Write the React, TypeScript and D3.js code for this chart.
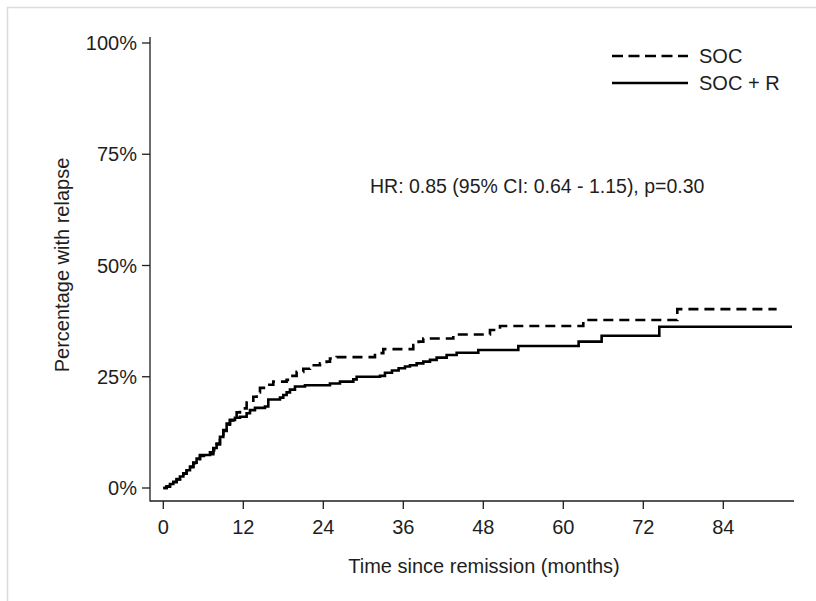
import React, { useEffect, useRef } from "react";
import * as d3 from "d3";

const xTicks = [0, 12, 24, 36, 48, 60, 72, 84];
const yTicks = [0, 25, 50, 75, 100];

const socT = [0, 0.5, 1, 1.5, 2, 2.5, 3, 3.5, 4, 4.5, 5, 5.5, 6.5, 7.5, 8, 8.5, 9, 9.5, 10, 10.5, 11, 11.5, 12.5, 13.5, 14, 14.5, 15.5, 16.5, 18.5, 19, 20, 21, 22, 23.5, 24.5, 25, 26, 31.75, 33, 37.5, 38.3, 39, 43.5, 49, 50.5, 63, 77.1, 92];
const socV = [0, 0.3, 0.8, 1.3, 1.9, 2.5, 3.2, 3.9, 4.7, 5.6, 6.5, 7.2, 7.6, 8.5, 9.8, 11.2, 12.8, 14.2, 15.2, 16.0, 17.0, 17.9, 19.2, 20.5, 21.5, 22.5, 23.2, 23.9, 24.3, 25.2, 26.1, 26.8, 27.6, 28.0, 28.4, 29.1, 29.4, 30.3, 31.2, 32.1, 32.9, 33.6, 34.5, 35.5, 36.4, 37.75, 40.2, 40.2];

const socRT = [0, 0.5, 1, 1.5, 2, 2.5, 3, 3.5, 4, 4.5, 5, 5.5, 7, 7.5, 8, 8.5, 9, 9.5, 10, 10.75, 11.5, 12.5, 13, 13.75, 15.25, 15.75, 17.5, 18, 18.5, 19, 19.75, 21.25, 25, 26.5, 28.5, 29, 32.5, 33.25, 34.3, 35.3, 36.25, 37, 38, 39, 40, 41, 42.5, 44, 47.25, 53.25, 62.3, 65.75, 74.4, 94.3];
const socRV = [0, 0.4, 0.9, 1.4, 2.0, 2.6, 3.3, 4.0, 4.8, 5.7, 6.6, 7.4, 8.0, 9.0, 10.0, 11.5, 13.0, 14.5, 15.3, 15.8, 16.0, 16.8, 17.5, 18.0, 18.3, 19.9, 20.3, 20.9, 21.5, 22.1, 22.8, 23.1, 23.5, 23.9, 24.4, 25.0, 25.2, 25.9, 26.4, 26.9, 27.3, 27.6, 28.0, 28.4, 28.8, 29.3, 29.9, 30.4, 31.0, 31.9, 32.9, 34.2, 36.25, 36.25];

const seriesNames = ["SOC", "SOC + R"];

const FONT = "'Liberation Sans', Arial, sans-serif";
const TXT = "#1e1e1e";
const FS = 20;

export default function App() {
  const ref = useRef<SVGSVGElement>(null);
  useEffect(() => {
    const svg = d3.select(ref.current);
    svg.selectAll("*").remove();
    const x = d3.scaleLinear().domain([0, 84]).range([163.3, 723.3]);
    const y = d3.scaleLinear().domain([0, 100]).range([488, 43]);

    svg.append("rect").attr("x", 7.5).attr("y", 7.5).attr("width", 900).attr("height", 700)
      .attr("fill", "white").attr("stroke", "#dcdcdc").attr("stroke-width", 1.5);

    const g = svg.append("g");
    g.append("line").attr("x1", 150).attr("x2", 150).attr("y1", 37).attr("y2", 501.5).attr("stroke", TXT).attr("stroke-width", 1.3);
    g.append("line").attr("x1", 150).attr("x2", 794).attr("y1", 501).attr("y2", 501).attr("stroke", TXT).attr("stroke-width", 1.3);

    yTicks.forEach((t) => {
      g.append("line").attr("x1", 142).attr("x2", 150).attr("y1", y(t)).attr("y2", y(t)).attr("stroke", TXT).attr("stroke-width", 1.3);
      g.append("text").attr("x", 137).attr("y", y(t)).attr("dy", "0.35em").attr("text-anchor", "end")
        .attr("font-family", FONT).attr("font-size", FS).attr("fill", TXT).text(`${t}%`);
    });
    xTicks.forEach((t) => {
      g.append("line").attr("x1", x(t)).attr("x2", x(t)).attr("y1", 501).attr("y2", 509).attr("stroke", TXT).attr("stroke-width", 1.3);
      g.append("text").attr("x", x(t)).attr("y", 534).attr("text-anchor", "middle")
        .attr("font-family", FONT).attr("font-size", FS).attr("fill", TXT).text(String(t));
    });

    g.append("text").attr("transform", `translate(69,265) rotate(-90)`).attr("text-anchor", "middle")
      .attr("font-family", FONT).attr("font-size", FS).attr("fill", TXT).text("Percentage with relapse");
    g.append("text").attr("x", 484).attr("y", 573).attr("text-anchor", "middle")
      .attr("font-family", FONT).attr("font-size", FS).attr("fill", TXT).text("Time since remission (months)");

    const line = d3.line<[number, number]>().x((d) => x(d[0])).y((d) => y(d[1])).curve(d3.curveStepAfter);
    const soc: [number, number][] = socT.map((t, i) => [t, socV[i]]);
    const socR: [number, number][] = socRT.map((t, i) => [t, socRV[i]]);

    g.append("path").attr("d", line(socR)).attr("fill", "none").attr("stroke", "#000").attr("stroke-width", 2.6);
    g.append("path").attr("d", line(soc)).attr("fill", "none").attr("stroke", "#000").attr("stroke-width", 2.6)
      .attr("stroke-dasharray", "10,6");

    g.append("text").attr("x", 370).attr("y", 193).attr("font-family", FONT).attr("font-size", 19.5).attr("fill", TXT)
      .text("HR: 0.85 (95% CI: 0.64 - 1.15), p=0.30");

    const leg = [
      { name: seriesNames[0], y: 56, dash: "11,5.5" },
      { name: seriesNames[1], y: 83, dash: null },
    ];
    leg.forEach((l) => {
      const ln = g.append("line").attr("x1", 612).attr("x2", 688).attr("y1", l.y).attr("y2", l.y)
        .attr("stroke", "#000").attr("stroke-width", 2.6);
      if (l.dash) ln.attr("stroke-dasharray", l.dash);
      g.append("text").attr("x", 699).attr("y", l.y).attr("dy", "0.35em").attr("font-family", FONT)
        .attr("font-size", FS).attr("fill", TXT).text(l.name);
    });
  }, []);
  return <svg ref={ref} width={816} height={601} style={{ position: "absolute", left: 0, top: 0 }} />;
}
